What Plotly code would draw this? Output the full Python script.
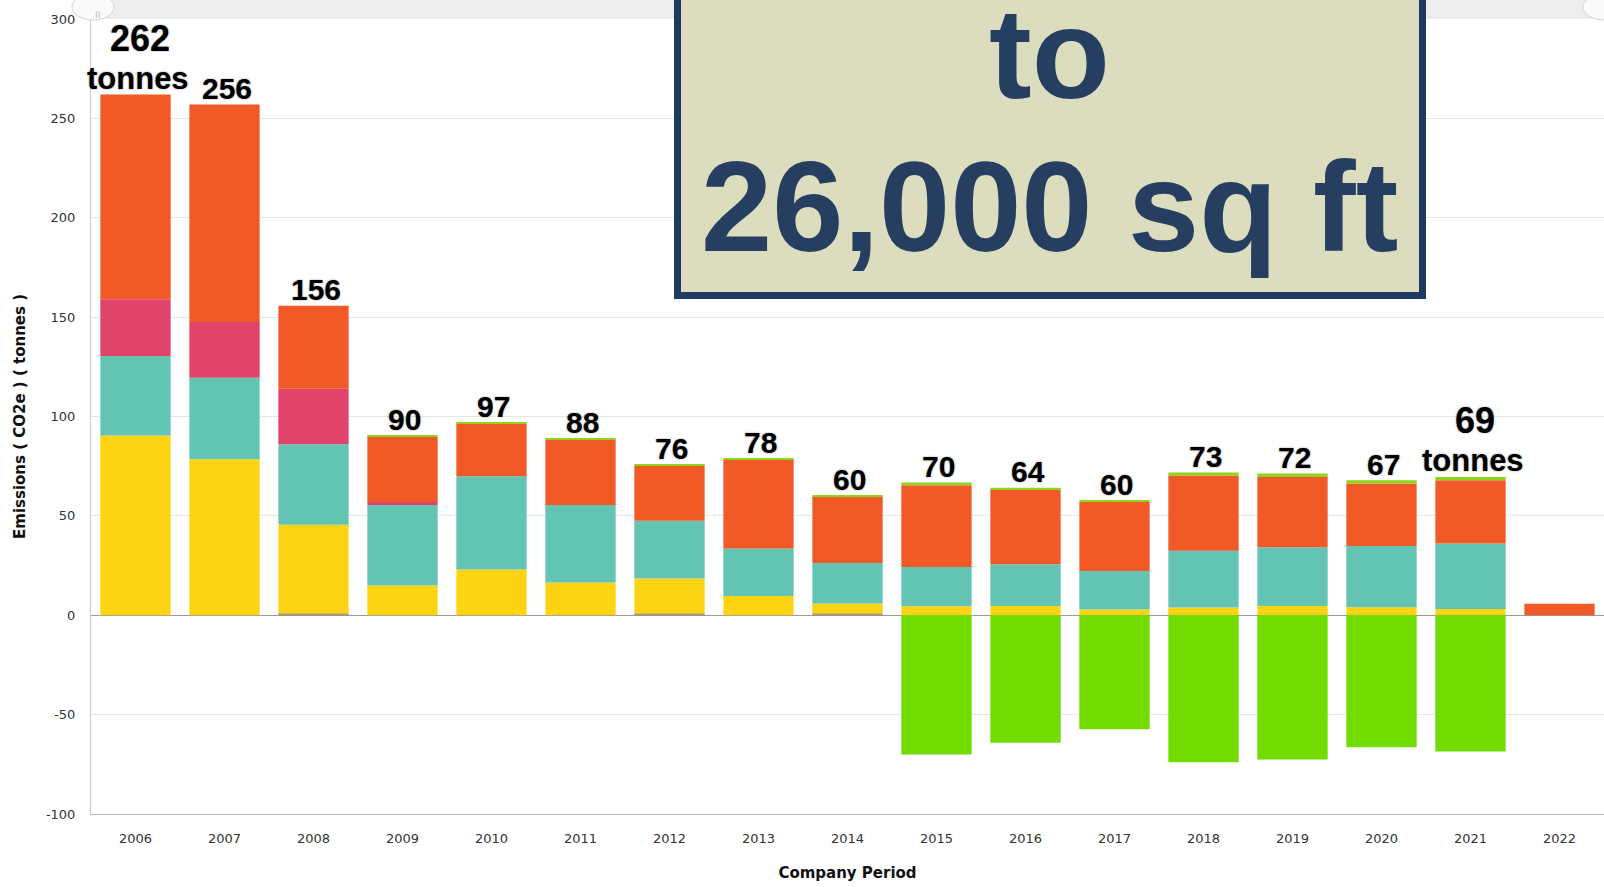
import plotly.graph_objects as go

# ---------------- data ----------------
years = ["2006", "2007", "2008", "2009", "2010", "2011", "2012", "2013", "2014",
         "2015", "2016", "2017", "2018", "2019", "2020", "2021", "2022"]
other = [0, 0, 1, 0, 0, 0, 1, 0, 1, 0, 0, 0, 0, 0, 0, 0, 0]
gas = [90.5, 78.5, 44.5, 15, 23, 16.5, 17.5, 9.7, 4.9, 4.5, 4.7, 2.9, 3.9, 4.7, 4.0, 3.2, 0]
electricity = [40, 41, 40.5, 40.5, 47, 39, 29, 23.9, 20.4, 19.8, 21, 19.4, 28.5, 29.5, 30.9, 32.9, 0]
oil = [28.5, 28, 28, 1.5, 0, 0, 0, 0, 0, 0, 0, 0, 0, 0, 0, 0, 0]
travel = [103, 109.5, 41.7, 33, 26.5, 33, 28, 44.8, 33.5, 41.1, 37.6, 34.7, 37.9, 35.4, 31.4, 31.8, 5.8]
waste = [0, 0, 0, 0.3, 0.5, 0.4, 0.4, 0.4, 0.4, 1.4, 0.8, 0.9, 1.5, 1.7, 1.6, 1.7, 0]
offsets = [0, 0, 0, 0, 0, 0, 0, 0, 0, -70, -64.1, -57.4, -74, -72.6, -66.4, -68.6, 0]

label_text = ["262", "256", "156", "90", "97", "88", "76", "78", "60",
              "70", "64", "60", "73", "72", "67", "69", ""]
unit_text = "tonnes"
unit_years = ["2006", "2021"]

y_ticks = [-100, -50, 0, 50, 100, 150, 200, 250, 300]
y_ticktext = ["-100", "-50", "0", "50", "100", "150", "200", "250", "300"]
y_title = "Emissions ( CO2e ) ( tonnes )"
x_title = "Company Period"
box_lines = ["to", "26,000 sq ft"]

# ---------------- layout helpers ----------------
W, H = 1604, 887
L, R, T, B = 91, 0, 19, 73


def px(x):
    return (x - L) / (W - L - R)


def py(y):
    return (H - B - y) / (H - T - B)


series = [
    ("Other", other, "#A8966E"),
    ("Gas", gas, "#FDD413"),
    ("Electricity", electricity, "#63C4B4"),
    ("Oil", oil, "#E0446B"),
    ("Travel", travel, "#F15A26"),
    ("Waste", waste, "#8FD41A"),
    ("Offsets", offsets, "#72DC00"),
]

fig = go.Figure()
for name, vals, col in series:
    fig.add_trace(go.Bar(
        x=years, y=vals, name=name, marker=dict(color=col, line=dict(width=0)),
        hoverinfo="x+y+name"))

totals = [sum(v) for v in zip(other, gas, electricity, oil, travel, waste)]

label_font = dict(family="Liberation Sans, Arial, sans-serif", size=30, color="#000000",
                  weight="bold", shadow="0px 0px 2px rgba(0,0,0,0.45)")

annotations = []
for i, (yr, tot, txt) in enumerate(zip(years, totals, label_text)):
    if not txt:
        continue
    if yr in unit_years:
        annotations.append(dict(x=i, y=tot, xref="x", yref="y", text=unit_text,
                                showarrow=False, yanchor="middle", yshift=16,
                                xshift=2, font=dict(label_font, size=31)))
        annotations.append(dict(x=i, y=tot, xref="x", yref="y", text=txt,
                                showarrow=False, yanchor="middle", yshift=56,
                                xshift=4, font=dict(label_font, size=36)))
    else:
        annotations.append(dict(x=i, y=tot, xref="x", yref="y", text=txt,
                                showarrow=False, yanchor="middle", yshift=16,
                                xshift=2, font=label_font))

box_font = dict(family="Liberation Sans, Arial, sans-serif", size=128, color="#263F60",
                weight="bold")
annotations.append(dict(x=px(1049), y=py(54), xref="paper", yref="paper", text=box_lines[0],
                        showarrow=False, xanchor="center", yanchor="middle", font=box_font))
annotations.append(dict(x=px(1049), y=py(207), xref="paper", yref="paper", text=box_lines[1],
                        showarrow=False, xanchor="center", yanchor="middle", font=box_font))

# scrollbar handle text
annotations.append(dict(x=px(93), y=py(8), xref="paper", yref="paper", text="II",
                        showarrow=False, font=dict(size=9, color="#bbbbbb",
                                                   family="DejaVu Sans")))

shapes = [
    # top scrollbar band
    dict(type="rect", xref="paper", yref="paper", x0=px(100), x1=px(1610), y0=py(18), y1=py(-5),
         fillcolor="#EEEEEE", line=dict(color="#E2E2E2", width=1), layer="above"),
    dict(type="circle", xref="paper", yref="paper", x0=px(72), x1=px(114), y0=py(20), y1=py(-6),
         fillcolor="#FAFAFA", line=dict(color="#D5D5D5", width=1), layer="above"),
    dict(type="circle", xref="paper", yref="paper", x0=px(1583), x1=px(1625), y0=py(20), y1=py(-6),
         fillcolor="#FAFAFA", line=dict(color="#D5D5D5", width=1), layer="above"),
    # highlight box
    dict(type="rect", xref="paper", yref="paper", x0=px(677.5), x1=px(1422.5),
         y0=py(295.5), y1=py(-20), fillcolor="#DCDDBE",
         line=dict(color="#1F3A60", width=7), layer="above"),
]

fig.update_layout(
    width=W, height=H,
    margin=dict(l=L, r=R, t=T, b=B, pad=0),
    barmode="relative",
    bargap=0.21,
    showlegend=False,
    plot_bgcolor="#FFFFFF",
    paper_bgcolor="#FFFFFF",
    annotations=annotations,
    shapes=shapes,
    xaxis=dict(
        type="category", range=[-0.5, 16.5], showgrid=False,
        showline=True, linecolor="#B5B5B5", linewidth=1, mirror=False,
        ticks="", tickfont=dict(family="DejaVu Sans, Verdana, sans-serif", size=13, color="#333333"),
        ticklabelstandoff=12,
        title=dict(text="<b>" + x_title + "</b>", standoff=22,
                   font=dict(family="DejaVu Sans, Verdana, sans-serif", size=15, color="#111111")),
        fixedrange=True,
    ),
    yaxis=dict(
        range=[-100, 300], tickvals=y_ticks, ticktext=y_ticktext,
        showgrid=True, gridcolor="#E6E6E6", gridwidth=1,
        zeroline=True, zerolinecolor="#9A9A9A", zerolinewidth=1,
        showline=True, linecolor="#CCCCCC", linewidth=1,
        ticks="", tickfont=dict(family="DejaVu Sans, Verdana, sans-serif", size=13, color="#333333"),
        ticklabelstandoff=12,
        title=dict(text="<b>" + y_title + "</b>", standoff=16,
                   font=dict(family="DejaVu Sans, Verdana, sans-serif", size=15, color="#111111")),
        fixedrange=True,
    ),
)

fig.write_html("out.html", config={"displayModeBar": False},
               post_script="document.body.style.margin='0';document.body.style.overflow='hidden';")
